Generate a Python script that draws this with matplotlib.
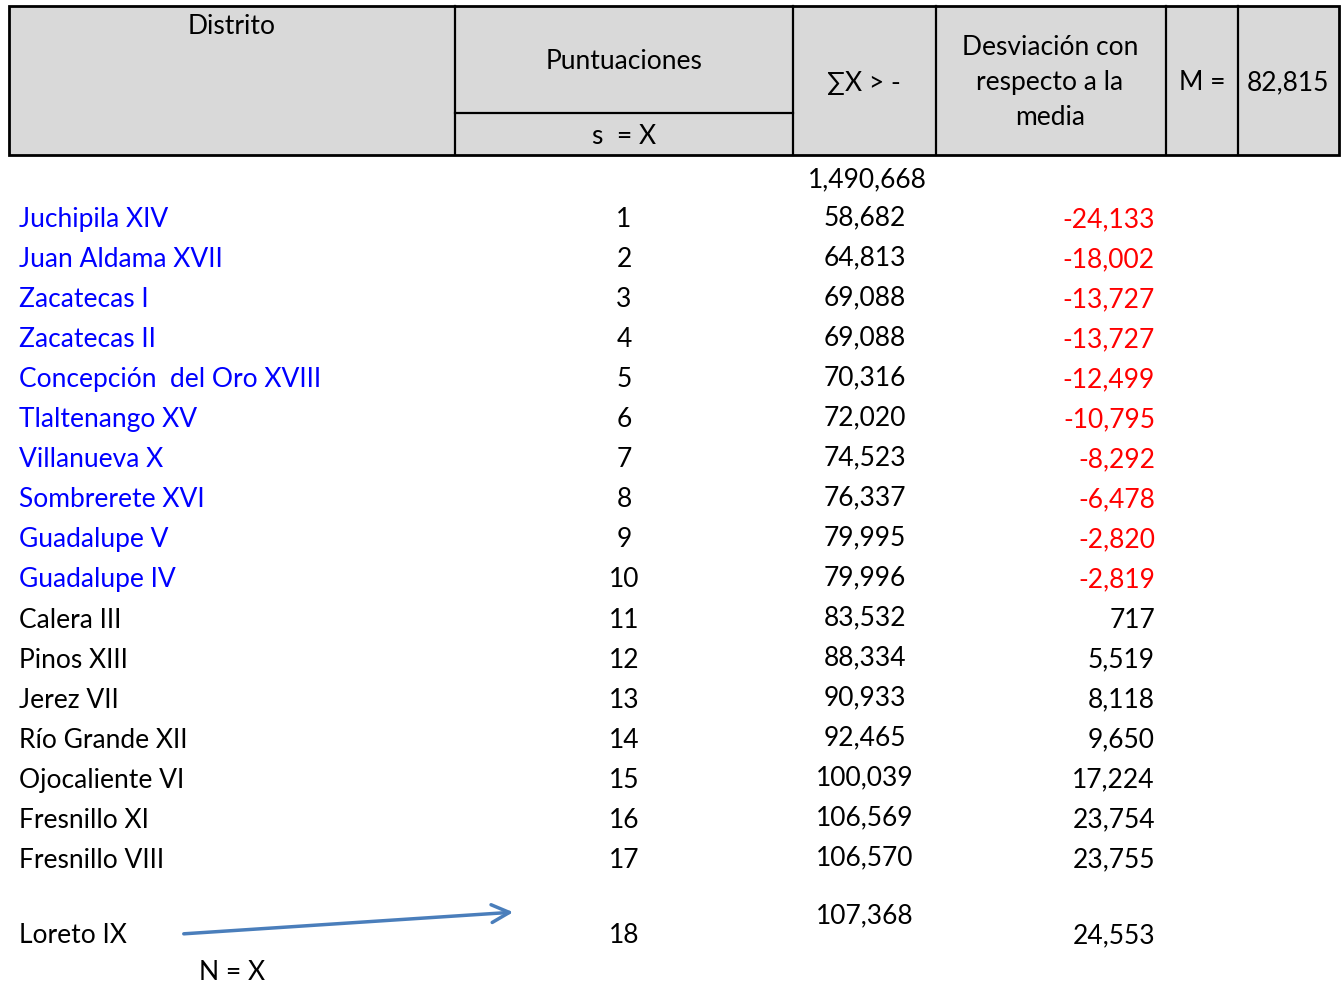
import matplotlib.pyplot as plt
from matplotlib.patches import Rectangle

distritos = ['Juchipila XIV', 'Juan Aldama XVII', 'Zacatecas I', 'Zacatecas II',
             'Concepción  del Oro XVIII', 'Tlaltenango XV', 'Villanueva X',
             'Sombrerete XVI', 'Guadalupe V', 'Guadalupe IV', 'Calera III',
             'Pinos XIII', 'Jerez VII', 'Río Grande XII', 'Ojocaliente VI',
             'Fresnillo XI', 'Fresnillo VIII', 'Loreto IX']
puntuaciones = list(range(1, 19))
valores = ['58,682', '64,813', '69,088', '69,088', '70,316', '72,020', '74,523',
           '76,337', '79,995', '79,996', '83,532', '88,334', '90,933', '92,465',
           '100,039', '106,569', '106,570', '107,368']
desviaciones = ['-24,133', '-18,002', '-13,727', '-13,727', '-12,499', '-10,795',
                '-8,292', '-6,478', '-2,820', '-2,819', '717', '5,519', '8,118',
                '9,650', '17,224', '23,754', '23,755', '24,553']
suma_total = '1,490,668'
media = '82,815'

plt.rcParams['font.family'] = ['Lato', 'DejaVu Sans']
FS = 19
dy = 1.5  # small vertical nudge so the text sits like the original

fig = plt.figure(figsize=(13.44, 9.84), dpi=100)
ax = fig.add_axes([0, 0, 1, 1])
ax.set_xlim(0, 1344)
ax.set_ylim(984, 0)
ax.axis('off')

# header block
ax.add_patch(Rectangle((9, 6), 1330, 149, facecolor='#d9d9d9', edgecolor='black', lw=2))
for x in [455, 793, 936, 1166, 1238]:
    ax.plot([x, x], [6, 155], color='black', lw=1.6)
ax.plot([455, 793], [113, 113], color='black', lw=1.6)

ax.text(232, 25 + dy, 'Distrito', ha='center', va='center', fontsize=FS)
ax.text(624, 60 + dy, 'Puntuaciones', ha='center', va='center', fontsize=FS)
ax.text(624, 135 + dy, 's  = X', ha='center', va='center', fontsize=FS)
ax.text(864, 82 + dy, '∑X > -', ha='center', va='center', fontsize=FS)
ax.text(1050, 81 + dy, 'Desviación con\nrespecto a la\nmedia', ha='center', va='center',
        fontsize=FS, linespacing=1.5)
ax.text(1202, 81 + dy, 'M =', ha='center', va='center', fontsize=FS)
ax.text(1288, 81 + dy, media, ha='center', va='center', fontsize=FS)

ax.text(867, 178 + dy, suma_total, ha='center', va='center', fontsize=FS)

for i, (d, p, v, dv) in enumerate(zip(distritos, puntuaciones, valores, desviaciones)):
    if i < 17:
        y = 218 + 40.05 * i
        yv = y - 2
    else:
        y = 934
        yv = 914
    ncol = 'blue' if i < 10 else 'black'
    dcol = 'red' if dv.startswith('-') else 'black'
    ax.text(19, y + dy, d, ha='left', va='center', fontsize=FS, color=ncol)
    ax.text(624, y + dy, str(p), ha='center', va='center', fontsize=FS)
    ax.text(865, yv + dy, v, ha='center', va='center', fontsize=FS)
    ax.text(1155, y + dy, dv, ha='right', va='center', fontsize=FS, color=dcol)

ax.annotate('', xy=(516, 912), xytext=(181, 934),
            arrowprops=dict(arrowstyle='->', color='#4a7ebb', lw=2.5, mutation_scale=32))
ax.text(232, 971 + dy, 'N = X', ha='center', va='center', fontsize=FS)

fig.savefig('out.png', dpi=100)
